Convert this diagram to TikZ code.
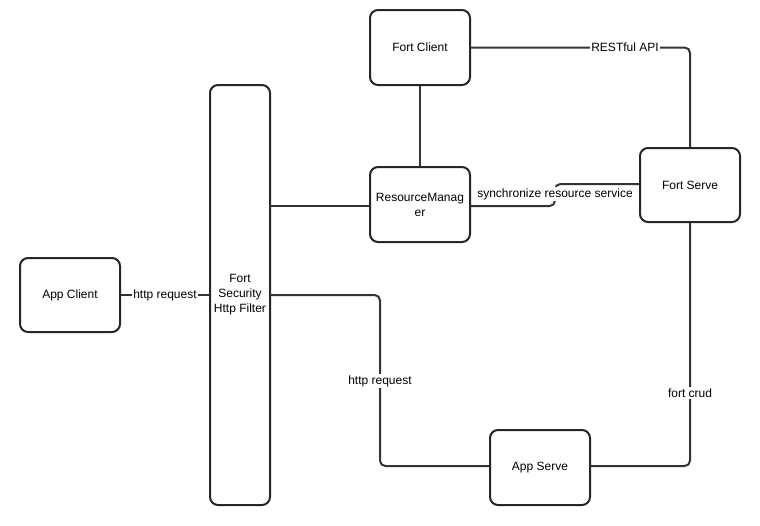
\documentclass[tikz,border=0pt]{standalone}
\usepackage{fontspec}
\setmainfont{Liberation Sans}
\begin{document}
\begin{tikzpicture}[x=0.75pt,y=-0.75pt,
  box/.style={draw=black!85,line width=1.5pt,rounded corners=6pt,fill=white,font=\fontsize{9}{11.25}\selectfont,align=center,inner sep=0pt},
  conn/.style={draw=black!80,line width=1.5pt,rounded corners=4pt},
  lbl/.style={fill=white,font=\fontsize{9}{11.25}\selectfont,inner sep=1pt}]
\useasboundingbox (0,0) rectangle (760,525);
\node[box,minimum width=75pt,minimum height=56.25pt] (fc) at (420,47.5) {Fort Client};
\node[box,minimum width=45pt,minimum height=315pt] (filter) at (240,295) {};
\node[font=\fontsize{9}{11.25}\selectfont,align=center] (filtertext) at (240,295) {Fort\\Security\\Http Filter};
\node[box,minimum width=75pt,minimum height=56.25pt] (rm) at (420,204.5) {ResourceManag\\er};
\node[box,minimum width=75pt,minimum height=55.5pt] (fs) at (690,185) {Fort Serve};
\node[box,minimum width=75pt,minimum height=55.5pt] (ac) at (70,295) {App Client};
\node[box,minimum width=75pt,minimum height=56.25pt] (as) at (540,467.5) {App Serve};
\coordinate (fcr) at (fc.east);
\draw[conn] (fc.south) -- (rm.north);
\draw[conn] (fc.east) -- (690,47.5) -- (fs.north);
\node[lbl] (l1) at (625,47.5) {RESTful API};
\draw[conn] (270,206) -- (rm.west |- 0,206);
\draw[conn] (rm.east |- 0,206) -- (555,206) -- (555,184) -- (fs.west |- 0,184);
\node[lbl] (l2) at (555,194) {synchronize resource service};
\draw[conn] (ac.east) -- (filter.west |- ac.east);
\node[lbl] (l3) at (165,295) {http request};
\draw[conn] (270,295) -- (380,295) -- (380,466) -- (as.west |- 0,466);
\node[lbl] (l4) at (380,381) {http request};
\draw[conn] (as.east |- 0,466) -- (690,466) -- (fs.south);
\node[lbl] (l5) at (690,393) {fort crud};
\end{tikzpicture}
\end{document}
